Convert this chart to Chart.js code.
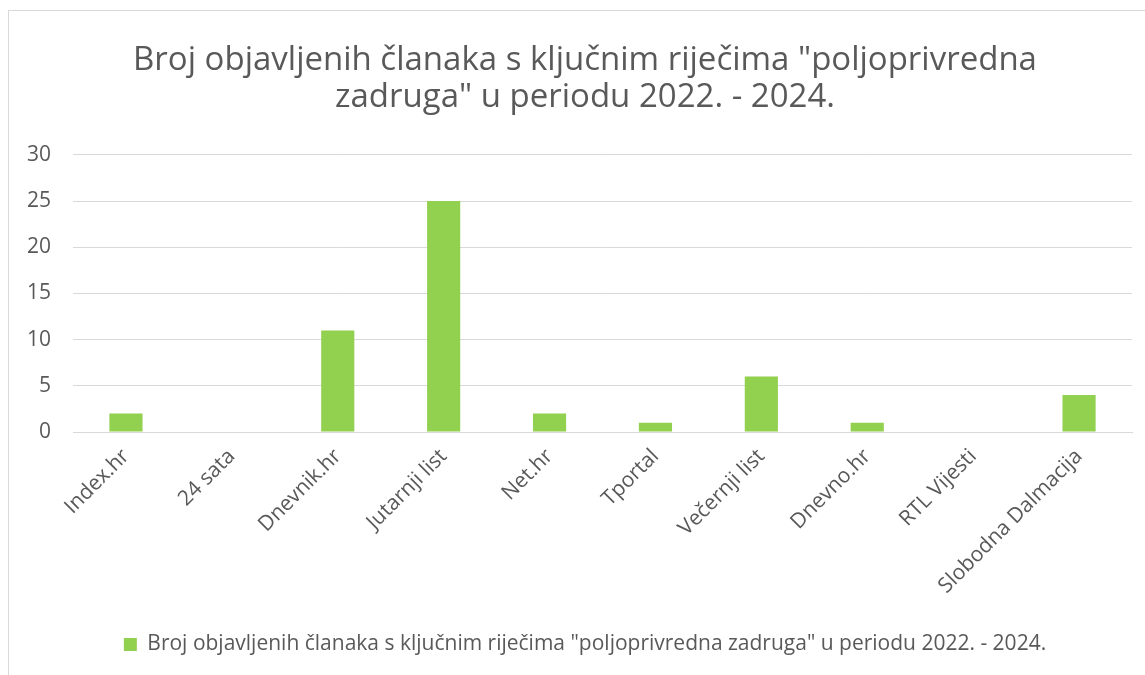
<!DOCTYPE html>
<html>
<head>
<meta charset="utf-8">
<script src="https://cdn.jsdelivr.net/npm/chart.js@4.4.1/dist/chart.umd.min.js"></script>
<style>
  html, body { margin: 0; padding: 0; background: #fff; overflow: hidden; }
  body { width: 1145px; height: 675px; position: relative; }
  #frame {
    position: absolute; left: 8px; top: 10px;
    width: 1152px; height: 680px;
    border-top: 1px solid #d9d9d9; border-left: 1px solid #d9d9d9;
  }
  #chart { display: block; }
</style>
</head>
<body>
<div id="frame"><canvas id="chart" width="1152" height="665"></canvas></div>
<script>
// ── Data ─────────────────────────────────────────────────
const categories = ['Index.hr', '24 sata', 'Dnevnik.hr', 'Jutarnji list', 'Net.hr',
                    'Tportal', 'Večernji list', 'Dnevno.hr', 'RTL Vijesti', 'Slobodna Dalmacija'];
const articleCounts = [2, 0, 11, 25, 2, 1, 6, 1, 0, 4];
const yTicks = [0, 5, 10, 15, 20, 25, 30];

const titleLines = ['Broj objavljenih članaka s ključnim riječima "poljoprivredna',
                    'zadruga" u periodu 2022. - 2024.'];
const seriesLabel = 'Broj objavljenih članaka s ključnim riječima "poljoprivredna zadruga" u periodu 2022. - 2024.';

const TEXT = '#595959';
const GRID = '#d9d9d9';
const FONT = "'Open Sans', sans-serif";

// ── Chart ────────────────────────────────────────────────
const ctx = document.getElementById('chart').getContext('2d');
new Chart(ctx, {
  type: 'bar',
  data: {
    labels: categories,
    datasets: [{
      label: seriesLabel,
      data: articleCounts,
      backgroundColor: '#92D050',
      borderWidth: 0,
      categoryPercentage: 1,
      barPercentage: 0.313
    }]
  },
  options: {
    responsive: false,
    animation: false,
    layout: { padding: { left: 0, right: 0, top: 0, bottom: 11 } },
    plugins: {
      title: {
        display: true,
        text: titleLines,
        color: TEXT,
        font: { family: FONT, size: 33, weight: 'normal', lineHeight: 1.12 },
        padding: { top: 31, bottom: 39 }
      },
      legend: {
        position: 'bottom',
        labels: {
          color: TEXT,
          font: { family: FONT, size: 21 },
          boxWidth: 13,
          boxHeight: 13,
          padding: 10
        }
      },
      tooltip: { enabled: false }
    },
    scales: {
      x: {
        grid: { display: false },
        border: { color: GRID },
        ticks: {
          color: TEXT,
          font: { family: FONT, size: 21 },
          minRotation: 45,
          maxRotation: 45,
          autoSkip: false,
          padding: 4
        },
        afterFit: s => { s.height = 192; }
      },
      y: {
        min: 0,
        max: 30,
        afterBuildTicks: s => { s.ticks = yTicks.map(v => ({ value: v })); },
        grid: { color: GRID, drawTicks: false },
        border: { display: false },
        ticks: {
          color: TEXT,
          font: { family: FONT, size: 21 },
          padding: 22
        },
        afterFit: s => { s.width = 64; }
      },
      // empty right-hand margin so the plot ends where the reference's does
      yRight: {
        type: 'linear',
        position: 'right',
        grid: { display: false },
        border: { display: false },
        ticks: { display: false },
        afterFit: s => { s.width = 29; }
      }
    }
  }
});
</script>
</body>
</html>
